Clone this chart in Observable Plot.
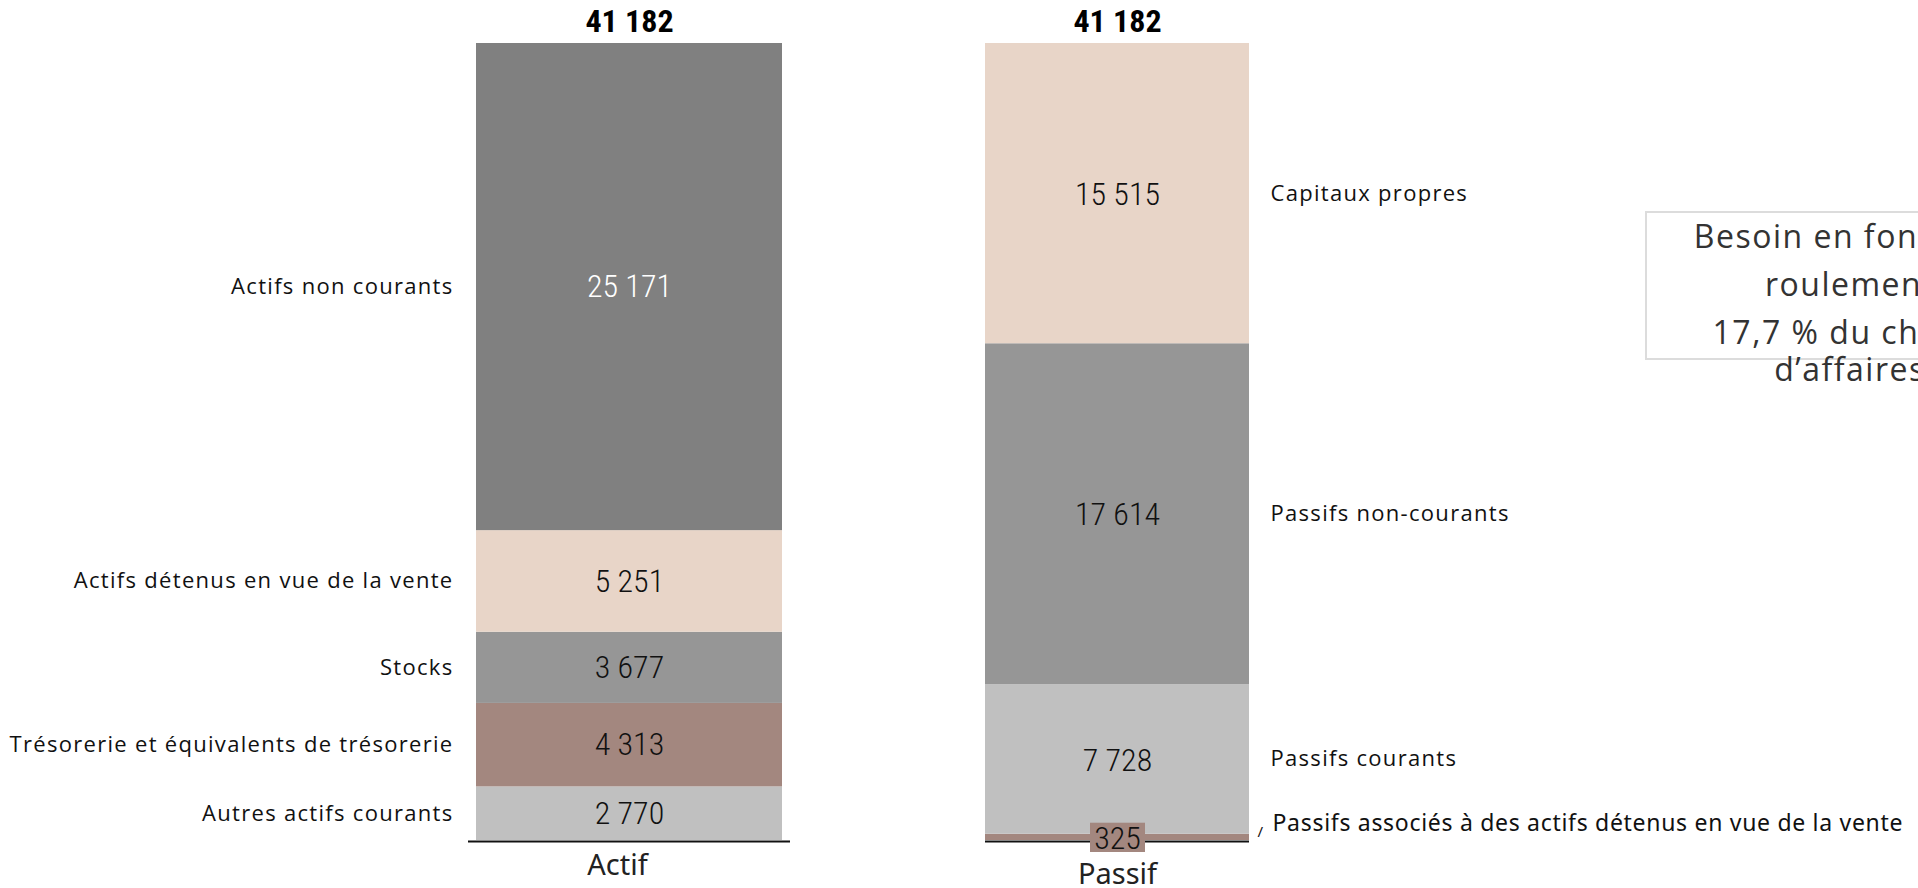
<!DOCTYPE html>
<html>
<head>
<meta charset="utf-8">
<script src="https://cdn.jsdelivr.net/npm/d3@7"></script>
<script src="https://cdn.jsdelivr.net/npm/@observablehq/plot@0.6"></script>
<style>
  html, body { margin: 0; padding: 0; background: #fff; overflow: hidden; }
  #wrap { position: relative; width: 1918px; height: 888px; overflow: hidden; }
  #chart { position: absolute; left: 0; top: 0; }
  #chart g[font-family*="Roboto Condensed"] { font-stretch: condensed; }
  #chart g[font-family="'Open Sans', sans-serif"] { letter-spacing: 1.3px; }
  #chart g[font-family="'Noto Sans', sans-serif"] { letter-spacing: 0.7px; }
  #note {
    position: absolute; left: 1645px; top: 211px; width: 410px; height: 149px;
    border: 2px solid #dcdcdc; box-sizing: border-box;
    font-family: "Open Sans", sans-serif; color: #333; text-align: center;
    font-size: 32px; letter-spacing: 1.5px;
  }
  #note .t1 { line-height: 48px; margin-top: -1px; }
  #note .t2 { line-height: 37px; margin-top: 5px; }
</style>
</head>
<body>
<div id="wrap">
  <div id="chart"></div>
  <div id="note">
    <div class="t1">Besoin en fonds de<br>roulement</div>
    <div class="t2">17,7 % du chiffre d’affaires</div>
  </div>
</div>
<script>
// ---- Data ----
const sides = ["Actif", "Passif"];
const totals = [41182, 41182];

const actifCategories = [
  "Autres actifs courants",
  "Trésorerie et équivalents de trésorerie",
  "Stocks",
  "Actifs détenus en vue de la vente",
  "Actifs non courants"
];
const actifValues = [2770, 4313, 3677, 5251, 25171];
const actifColors = ["#c0c0c0", "#a3877f", "#969696", "#e8d5c8", "#808080"];
const actifTextColors = ["#111", "#111", "#111", "#111", "#ffffff"];

const passifCategories = [
  "Passifs associés à des actifs détenus en vue de la vente",
  "Passifs courants",
  "Passifs non-courants",
  "Capitaux propres"
];
const passifValues = [325, 7728, 17614, 15515];
const passifColors = ["#a3877f", "#c0c0c0", "#969696", "#e8d5c8"];
const passifTextColors = ["#111", "#111", "#111", "#111"];

// ---- Build tables ----
const actifRows = actifCategories.map((c, i) => ({side: "Actif", category: c, value: actifValues[i], color: actifColors[i], textColor: actifTextColors[i]}));
const passifRows = passifCategories.map((c, i) => ({side: "Passif", category: c, value: passifValues[i], color: passifColors[i], textColor: passifTextColors[i]}));
const totalRows = sides.map((s, i) => ({side: s, total: totals[i]}));

const fr = d3.formatLocale({decimal: ",", thousands: "\u00a0", grouping: [3], currency: ["", " €"]});
const fmt = fr.format(",d");

const valueFont = "'Roboto Condensed', 'Liberation Sans Narrow', 'DejaVu Sans Condensed', sans-serif";
const labelFont = "'Open Sans', sans-serif";
const noteFont = "'Noto Sans', sans-serif";
const sideFont = "'Noto Sans', Arial, sans-serif";

const chart = Plot.plot({
  width: 1918,
  height: 888,
  marginTop: 43,
  marginBottom: 48,
  marginLeft: 385,
  marginRight: 557,
  x: {type: "band", domain: sides, padding: 0, axis: null},
  y: {domain: [0, 41182], axis: null},
  color: {type: "identity"},
  style: {background: "white"},
  marks: [
    // bars
    Plot.barY(actifRows, Plot.stackY({x: "side", y: "value", fill: "color", insetLeft: 91, insetRight: 91})),
    Plot.barY(passifRows, Plot.stackY({x: "side", y: "value", fill: "color", insetLeft: 112, insetRight: 112})),
    // baselines
    Plot.tickY(totalRows.filter(d => d.side === "Actif"), {x: "side", y: () => 0, stroke: "#111", strokeWidth: 2, insetLeft: 83, insetRight: 83, dy: 1}),
    Plot.tickY(totalRows.filter(d => d.side === "Passif"), {x: "side", y: () => 0, stroke: "#111", strokeWidth: 2, insetLeft: 112, insetRight: 112, dy: 1}),
    // box behind the small 325 value
    Plot.barY(passifRows.slice(0, 1), Plot.stackY({x: "side", y: "value", fill: "color", insetLeft: 217, insetRight: 216, insetTop: -11, insetBottom: -12})),
    // values inside bars
    Plot.text(actifRows, Plot.stackY({x: "side", y: "value", text: d => fmt(d.value), fill: "textColor", fontFamily: valueFont, fontWeight: 300, fontSize: 32})),
    Plot.text(passifRows, Plot.stackY({x: "side", y: "value", text: d => fmt(d.value), fill: "textColor", fontFamily: valueFont, fontWeight: 300, fontSize: 32, dy: 1})),
    // left category labels
    Plot.text(actifRows, Plot.stackY({x: "side", y: "value", text: "category", textAnchor: "end", dx: -176, fill: "#111", fontFamily: labelFont, fontSize: 22})),
    // right category labels
    Plot.text(passifRows, Plot.stackY({x: "side", y: "value", text: (d, i) => i === 0 ? "" : d.category, textAnchor: "start", dx: 153, fill: "#111", fontFamily: labelFont, fontSize: 22})),
    Plot.text(passifRows, Plot.stackY({x: "side", y: "value", text: (d, i) => i === 0 ? d.category : "", textAnchor: "start", dx: 155, dy: -14, fill: "#111", fontFamily: noteFont, fontSize: 23})),
    Plot.text(passifRows, Plot.stackY({x: "side", y: "value", text: (d, i) => i === 0 ? "/" : "", textAnchor: "start", dx: 140, dy: -5, fill: "#111", fontFamily: sideFont, fontSize: 15})),
    // totals on top
    Plot.text(totalRows, {x: "side", y: "total", text: d => fmt(d.total), dy: -22, fill: "#000", fontWeight: "bold", fontFamily: valueFont, fontSize: 32}),
    // side labels under bars
    Plot.text(totalRows.filter(d => d.side === "Actif"), {x: "side", y: () => 0, text: "side", dx: -12, dy: 25, fill: "#222", fontFamily: sideFont, fontSize: 29}),
    Plot.text(totalRows.filter(d => d.side === "Passif"), {x: "side", y: () => 0, text: "side", dy: 34, fill: "#222", fontFamily: sideFont, fontSize: 29})
  ]
});
document.getElementById("chart").appendChild(chart);
</script>
</body>
</html>
